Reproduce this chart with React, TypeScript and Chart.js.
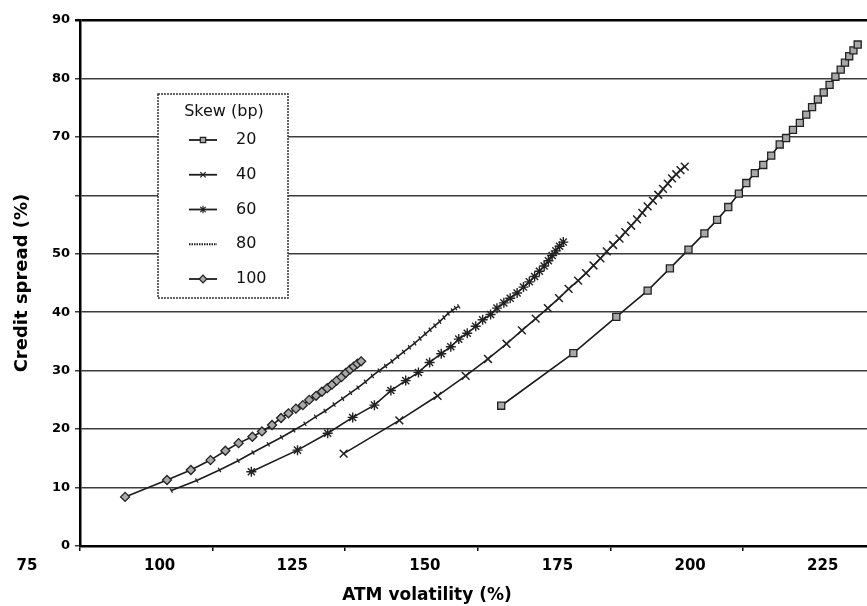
import React, { useEffect, useRef } from 'react';
import { Chart, registerables } from 'chart.js';
import { drawPoint } from 'chart.js/helpers';

Chart.register(...registerables);

// ---------- data (ATM volatility %, credit spread %) ----------
const seriesLabels = ['20', '40', '60', '80', '100'];
const legendTitle = 'Skew (bp)';
const xTitle = 'ATM volatility (%)';
const yTitle = 'Credit spread (%)';

const vol20 = [154.4, 168.0, 176.1, 182.0, 186.2, 189.7, 192.7, 195.1, 197.2, 199.2, 200.6, 202.2, 203.8, 205.3, 206.9, 208.1, 209.4, 210.7, 211.9, 213.0, 214.1, 215.2, 216.3, 217.4, 218.4, 219.2, 220.0, 220.8, 221.6];
const spread20 = [24.0, 33.0, 39.2, 43.7, 47.5, 50.7, 53.5, 55.8, 58.0, 60.3, 62.1, 63.8, 65.2, 66.8, 68.7, 69.8, 71.2, 72.4, 73.8, 75.1, 76.4, 77.6, 78.9, 80.3, 81.5, 82.7, 83.8, 84.8, 85.8];

const vol40 = [124.7, 135.2, 142.4, 147.7, 151.9, 155.4, 158.3, 160.9, 163.2, 165.3, 167.1, 168.9, 170.4, 171.8, 173.1, 174.3, 175.5, 176.7, 177.8, 178.9, 180.0, 181.0, 182.0, 183.0, 184.0, 184.9, 185.8, 186.6, 187.4, 188.2, 189.0];
const spread40 = [15.8, 21.5, 25.7, 29.1, 32.0, 34.6, 36.9, 38.9, 40.7, 42.4, 44.0, 45.4, 46.7, 48.0, 49.2, 50.4, 51.5, 52.6, 53.7, 54.8, 55.9, 57.0, 58.1, 59.1, 60.1, 61.1, 62.0, 62.9, 63.6, 64.3, 64.9];

const vol60 = [107.3, 116.0, 121.7, 126.4, 130.5, 133.6, 136.4, 138.8, 140.9, 143.1, 144.9, 146.4, 148.0, 149.6, 150.9, 152.4, 153.6, 154.9, 156.1, 157.4, 158.6, 159.7, 160.7, 161.6, 162.5, 163.3, 164.0, 164.7, 165.4, 166.1];
const spread60 = [12.7, 16.4, 19.3, 22.0, 24.1, 26.6, 28.3, 29.7, 31.4, 32.9, 34.1, 35.4, 36.4, 37.6, 38.7, 39.6, 40.7, 41.6, 42.4, 43.3, 44.3, 45.2, 46.1, 47.0, 47.9, 48.8, 49.7, 50.5, 51.3, 52.0];

const vol80 = [92.2, 97.0, 101.3, 104.8, 107.6, 110.5, 113.0, 115.3, 117.4, 119.4, 121.2, 122.9, 124.5, 126.0, 127.4, 128.8, 130.1, 131.4, 132.6, 133.8, 134.9, 136.0, 137.1, 138.1, 139.1, 140.1, 141.0, 141.9, 142.8, 143.6, 144.4, 145.2, 145.8, 146.4];
const spread80 = [9.5, 11.2, 13.0, 14.6, 16.0, 17.4, 18.6, 19.8, 20.9, 22.1, 23.1, 24.2, 25.2, 26.2, 27.1, 28.1, 29.1, 30.0, 30.8, 31.6, 32.4, 33.2, 34.0, 34.7, 35.5, 36.3, 37.0, 37.7, 38.4, 39.1, 39.8, 40.3, 40.7, 41.0];

const vol100 = [83.5, 91.4, 95.9, 99.6, 102.4, 104.9, 107.5, 109.3, 111.2, 112.9, 114.3, 115.7, 117.0, 118.2, 119.5, 120.6, 121.6, 122.5, 123.4, 124.3, 125.1, 125.9, 126.6, 127.3, 128.0];
const spread100 = [8.4, 11.3, 13.0, 14.7, 16.3, 17.6, 18.7, 19.6, 20.7, 21.9, 22.7, 23.5, 24.1, 25.0, 25.7, 26.4, 27.0, 27.6, 28.3, 28.9, 29.6, 30.2, 30.7, 31.2, 31.6];

const xTicks = [75, 100, 125, 150, 175, 200, 225, 250];
const yTicks = [0, 10, 20, 30, 40, 50, 60, 70, 80, 90];
const yHiddenLabels = [60];

const toPoints = (xs: number[], ys: number[]) => xs.map((x, i) => ({ x, y: ys[i] }));

const LINE = '#1c1c1c';
const MARK = '#222222';
const FILL = '#a8a8a8';

const legendPlugin = {
  id: 'boxLegend',
  afterDatasetsDraw(chart: any) {
    const ctx = chart.ctx as CanvasRenderingContext2D;
    const { left, top } = chart.chartArea;
    const bx = left + 78;
    const by = top + 74;
    const bw = 130;
    const bh = 204;
    ctx.save();
    ctx.fillStyle = '#ffffff';
    ctx.fillRect(bx, by, bw, bh);
    ctx.setLineDash([2, 1]);
    ctx.strokeStyle = '#333';
    ctx.lineWidth = 1.5;
    ctx.strokeRect(bx, by, bw, bh);
    ctx.setLineDash([]);
    ctx.fillStyle = '#111';
    ctx.font = '16px "DejaVu Sans"';
    ctx.textAlign = 'center';
    ctx.textBaseline = 'middle';
    ctx.fillText(legendTitle, bx + 66, by + 18);
    chart.data.datasets.forEach((ds: any, i: number) => {
      const y = by + 46 + i * 34.75;
      ctx.strokeStyle = LINE;
      ctx.lineWidth = 1.8;
      if (ds.pointStyle === 'line') ctx.setLineDash([1.5, 1]);
      ctx.beginPath();
      ctx.moveTo(bx + 31, y);
      ctx.lineTo(bx + 59, y);
      ctx.stroke();
      ctx.setLineDash([]);
      if (ds.pointStyle !== 'line') {
        ctx.fillStyle = ds.pointBackgroundColor || '#fff';
        ctx.strokeStyle = MARK;
        ctx.lineWidth = 1.2;
        drawPoint(ctx, { pointStyle: ds.pointStyle, radius: 3.8, borderWidth: 1.2, rotation: 0 } as any, bx + 45, y);
      }
      ctx.fillStyle = '#111';
      ctx.textAlign = 'left';
      ctx.font = '16px "DejaVu Sans"';
      ctx.fillText(ds.label, bx + 78, y);
    });
    ctx.restore();
  },
};

const xTitlePlugin = {
  id: 'xTitle',
  afterDraw(chart: any) {
    const ctx = chart.ctx as CanvasRenderingContext2D;
    const { left, bottom } = chart.chartArea;
    ctx.save();
    ctx.fillStyle = '#000';
    ctx.font = 'bold 17px "DejaVu Sans"';
    ctx.textAlign = 'center';
    ctx.textBaseline = 'alphabetic';
    ctx.fillText(xTitle, left + 347, bottom + 54);
    ctx.restore();
  },
};

export default function App() {
  const ref = useRef<HTMLCanvasElement | null>(null);

  useEffect(() => {
    if (!ref.current) return;
    const common = {
      showLine: true,
      borderColor: LINE,
      borderWidth: 1.6,
      tension: 0,
      pointBorderColor: MARK,
      pointBorderWidth: 1.3,
      fill: false,
    };
    const chart = new Chart(ref.current, {
      type: 'scatter',
      data: {
        datasets: [
          { ...common, label: seriesLabels[0], data: toPoints(vol20, spread20), pointStyle: 'rect', pointRadius: 5, pointBackgroundColor: FILL },
          { ...common, label: seriesLabels[1], data: toPoints(vol40, spread40), pointStyle: 'crossRot', pointRadius: 5.5, pointBorderWidth: 1.5, pointBackgroundColor: FILL },
          { ...common, label: seriesLabels[2], data: toPoints(vol60, spread60), pointStyle: 'star', pointRadius: 5, pointBorderWidth: 1.4, pointBackgroundColor: FILL },
          { ...common, label: seriesLabels[3], data: toPoints(vol80, spread80), pointStyle: 'line', pointRadius: 2.5, pointRotation: 60, pointBackgroundColor: FILL },
          { ...common, label: seriesLabels[4], data: toPoints(vol100, spread100), pointStyle: 'rectRot', pointRadius: 4.5, pointBackgroundColor: FILL },
        ] as any,
      },
      options: {
        animation: false,
        responsive: false,
        events: [],
        layout: { padding: { left: 0, right: 20, top: 20, bottom: 0 } },
        plugins: {
          legend: { display: false },
          tooltip: { enabled: false },
        },
        scales: {
          x: {
            type: 'linear',
            min: xTicks[0],
            max: xTicks[xTicks.length - 1],
            afterBuildTicks: (s: any) => {
              s.ticks = xTicks.map((v) => ({ value: v }));
            },
            afterFit: (s: any) => {
              s.height = 60;
            },
            border: { display: true, color: '#000', width: 2.5 },
            grid: { drawOnChartArea: false, drawTicks: true, tickLength: 5, color: '#000', lineWidth: 1.5 },
            ticks: {
              labelOffset: -53,
              padding: 6,
              autoSkip: false,
              maxRotation: 0,
              color: '#000',
              font: { family: 'DejaVu Sans', weight: 'bold', size: 15 },
              callback: (v: any) => String(v),
            },
            title: { display: false },
          },
          y: {
            type: 'linear',
            min: yTicks[0],
            max: yTicks[yTicks.length - 1],
            afterBuildTicks: (s: any) => {
              s.ticks = yTicks.map((v) => ({ value: v }));
            },
            afterFit: (s: any) => {
              s.width = 80;
            },
            border: { display: true, color: '#000', width: 2.5 },
            grid: {
              drawTicks: true,
              tickLength: 5,
              color: (c: any) => (c.tick && c.tick.value === 90 ? '#000' : '#3c3c3c'),
              lineWidth: (c: any) => (c.tick && c.tick.value === 90 ? 2.5 : 1.5),
            },
            ticks: {
              padding: 5,
              color: '#000',
              font: { family: 'DejaVu Sans', weight: 'bold', size: 13 },
              callback: (v: any) => (yHiddenLabels.includes(Number(v)) ? '' : String(v)),
            },
            title: {
              display: true,
              text: yTitle,
              color: '#000',
              font: { family: 'DejaVu Sans', weight: 'bold', size: 18 },
              padding: { top: 12, bottom: 0 },
            },
          },
        },
      } as any,
      plugins: [legendPlugin, xTitlePlugin],
    });
    return () => chart.destroy();
  }, []);

  return (
    <div style={{ position: 'fixed', left: 0, top: 0, width: 867, height: 606, overflow: 'hidden', background: '#fff' }}>
      <canvas ref={ref} width={1030} height={606} style={{ display: 'block' }} />
    </div>
  );
}
